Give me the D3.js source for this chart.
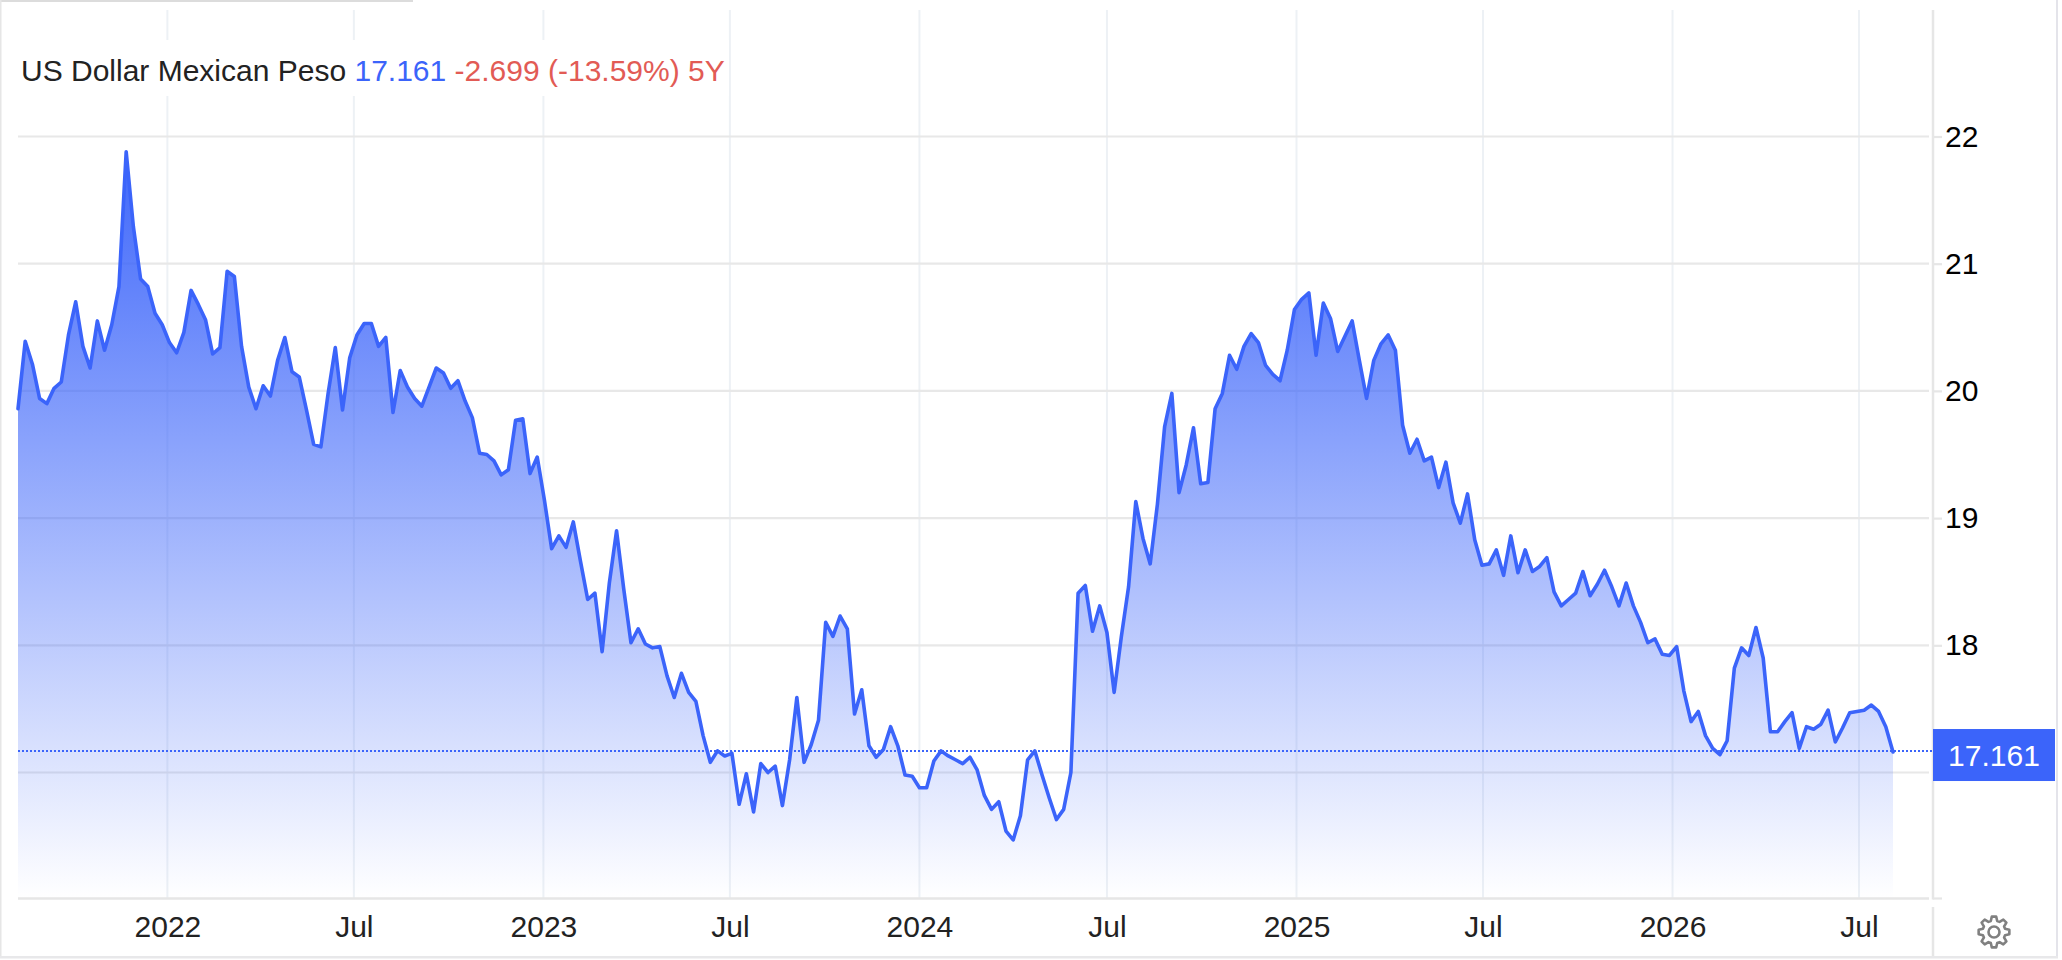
<!DOCTYPE html>
<html>
<head>
<meta charset="utf-8">
<title>US Dollar Mexican Peso</title>
<script src="https://cdn.jsdelivr.net/npm/d3@7"></script>
<style>
	html, body { margin: 0; padding: 0; background: #fff; }
	svg { display: block; }
	text { font-family: "Liberation Sans", Arial, sans-serif; }
</style>
</head>
<body>
<div id="chart"></div>
<script>

// weekly closes
var rates = [
	19.86, 20.39, 20.21, 19.94, 19.90, 20.02, 20.07, 20.44, 20.70, 20.35,
	20.18, 20.55, 20.32, 20.52, 20.82, 21.88, 21.29, 20.88, 20.82, 20.61,
	20.52, 20.38, 20.30, 20.46, 20.79, 20.68, 20.56, 20.29, 20.34, 20.94,
	20.90, 20.35, 20.03, 19.86, 20.04, 19.96, 20.24, 20.42, 20.15, 20.11,
	19.85, 19.58, 19.56, 19.98, 20.34, 19.85, 20.26, 20.44, 20.53, 20.53,
	20.35, 20.42, 19.83, 20.16, 20.03, 19.94, 19.88, 20.03, 20.18, 20.14,
	20.02, 20.08, 19.92, 19.79, 19.51, 19.50, 19.45, 19.34, 19.38, 19.77,
	19.78, 19.35, 19.48, 19.14, 18.76, 18.86, 18.77, 18.97, 18.66, 18.36,
	18.41, 17.95, 18.49, 18.90, 18.44, 18.02, 18.13, 18.01, 17.98, 17.99,
	17.76, 17.59, 17.78, 17.63, 17.56, 17.29, 17.08, 17.17, 17.13, 17.15,
	16.75, 16.99, 16.69, 17.07, 17.00, 17.05, 16.74, 17.10, 17.59, 17.08,
	17.22, 17.41, 18.18, 18.07, 18.23, 18.13, 17.46, 17.65, 17.21, 17.12,
	17.18, 17.36, 17.21, 16.98, 16.97, 16.88, 16.88, 17.09, 17.17, 17.13,
	17.10, 17.07, 17.12, 17.02, 16.82, 16.71, 16.77, 16.54, 16.47, 16.66,
	17.10, 17.17, 16.98, 16.80, 16.63, 16.71, 17.00, 18.41, 18.47, 18.11,
	18.31, 18.10, 17.63, 18.07, 18.46, 19.13, 18.84, 18.64, 19.11, 19.72,
	19.98, 19.20, 19.42, 19.71, 19.27, 19.28, 19.86, 19.98, 20.28, 20.17,
	20.35, 20.45, 20.38, 20.20, 20.13, 20.08, 20.32, 20.64, 20.72, 20.77,
	20.28, 20.69, 20.57, 20.31, 20.43, 20.55, 20.24, 19.94, 20.24, 20.37,
	20.44, 20.32, 19.73, 19.51, 19.62, 19.45, 19.48, 19.24, 19.44, 19.12,
	18.96, 19.19, 18.83, 18.63, 18.64, 18.75, 18.55, 18.86, 18.57, 18.75,
	18.58, 18.62, 18.69, 18.42, 18.31, 18.36, 18.41, 18.58, 18.39, 18.48,
	18.59, 18.46, 18.31, 18.49, 18.31, 18.18, 18.02, 18.05, 17.93, 17.92,
	17.99, 17.64, 17.40, 17.48, 17.29, 17.19, 17.14, 17.25, 17.82, 17.98,
	17.92, 18.14, 17.90, 17.32, 17.32, 17.40, 17.47, 17.19, 17.36, 17.34,
	17.38, 17.49, 17.24, 17.35, 17.47, 17.48, 17.49, 17.53, 17.48, 17.36,
	17.161
];

var firstWeek = new Date(2021, 7, 9);
var lastValue = 17.161;

var gridValues = [17, 18, 19, 20, 21, 22];
var yTicks = [18, 19, 20, 21, 22];	// 17 has no label, the price box covers it
var xTickDates = [
	new Date(2022, 0, 1), new Date(2022, 6, 1),
	new Date(2023, 0, 1), new Date(2023, 6, 1),
	new Date(2024, 0, 1), new Date(2024, 6, 1),
	new Date(2025, 0, 1), new Date(2025, 6, 1),
	new Date(2026, 0, 1), new Date(2026, 6, 1)
];
var xTickLabels = ["2022", "Jul", "2023", "Jul", "2024", "Jul", "2025", "Jul", "2026", "Jul"];

var titleName = "US Dollar Mexican Peso";
var titlePrice = "17.161";
var titleChange = "-2.699 (-13.59%) 5Y";

var blue = "#3b64fa";

var series = rates.map(function(d, i) {
	return { date: d3.timeDay.offset(firstWeek, i * 7), value: d };
});

var x = d3.scaleTime()
	.domain([series[0].date, series[series.length - 1].date])
	.range([18, 1893]);

var y = d3.scaleLinear()
	.domain([17, 22])
	.range([772.5, 136.5]);

var plotTop = 10, plotBottom = 898.5, plotLeft = 18, plotRight = 1929, axisX = 1933;

var svg = d3.select("#chart").append("svg")
	.attr("width", 2062)
	.attr("height", 960);

var defs = svg.append("defs");
var grad = defs.append("linearGradient")
	.attr("id", "areaFill")
	.attr("gradientUnits", "userSpaceOnUse")
	.attr("x1", 0).attr("x2", 0)
	.attr("y1", 150).attr("y2", plotBottom);
grad.append("stop").attr("offset", 0).attr("stop-color", blue).attr("stop-opacity", 0.98);
grad.append("stop").attr("offset", 1).attr("stop-color", blue).attr("stop-opacity", 0);

// frame round the widget
svg.append("rect").attr("x", 0).attr("y", 0).attr("width", 413).attr("height", 2).attr("fill", "#dcdcdc");
svg.append("rect").attr("x", 0).attr("y", 0).attr("width", 1.5).attr("height", 958).attr("fill", "#e6e6e6");
svg.append("rect").attr("x", 2056).attr("y", 0).attr("width", 2).attr("height", 958).attr("fill", "#e4e4ea");
svg.append("rect").attr("x", 0).attr("y", 956).attr("width", 2058).attr("height", 2.5).attr("fill", "#e8e8ea");

// grid
svg.append("g").selectAll("line")
	.data(xTickDates)
	.enter().append("line")
	.attr("x1", function(d) { return x(d); })
	.attr("x2", function(d) { return x(d); })
	.attr("y1", plotTop)
	.attr("y2", plotBottom)
	.attr("stroke", "#edf1f5")
	.attr("stroke-width", 2);

svg.append("g").selectAll("line")
	.data(gridValues)
	.enter().append("line")
	.attr("x1", plotLeft)
	.attr("x2", plotRight)
	.attr("y1", function(d) { return y(d); })
	.attr("y2", function(d) { return y(d); })
	.attr("stroke", "#e8e8e8")
	.attr("stroke-width", 2.2);

// title sits on a white box that cuts the grid
svg.append("rect")
	.attr("x", plotLeft)
	.attr("y", 40)
	.attr("width", 711)
	.attr("height", 56)
	.attr("fill", "#fff");

// bottom and right axis lines
svg.append("line")
	.attr("x1", plotLeft).attr("x2", plotRight)
	.attr("y1", plotBottom).attr("y2", plotBottom)
	.attr("stroke", "#e6e6e6").attr("stroke-width", 2.5);
svg.append("line")
	.attr("x1", axisX).attr("x2", axisX)
	.attr("y1", plotTop).attr("y2", plotBottom + 1)
	.attr("stroke", "#e6e6e6").attr("stroke-width", 2.5);
svg.append("line")
	.attr("x1", axisX).attr("x2", axisX)
	.attr("y1", 907).attr("y2", 956)
	.attr("stroke", "#e6e6e6").attr("stroke-width", 2.5);
svg.append("line")
	.attr("x1", axisX).attr("x2", axisX + 9)
	.attr("y1", plotBottom).attr("y2", plotBottom)
	.attr("stroke", "#e6e6e6").attr("stroke-width", 2.2);

// area and line
var area = d3.area()
	.x(function(d) { return x(d.date); })
	.y0(plotBottom)
	.y1(function(d) { return y(d.value); });

var line = d3.line()
	.x(function(d) { return x(d.date); })
	.y(function(d) { return y(d.value); });

svg.append("path")
	.datum(series)
	.attr("d", area)
	.attr("fill", "url(#areaFill)");

svg.append("path")
	.datum(series)
	.attr("d", line)
	.attr("fill", "none")
	.attr("stroke", blue)
	.attr("stroke-width", 3.6)
	.attr("stroke-linejoin", "round")
	.attr("stroke-linecap", "round");

// last value marker
svg.append("line")
	.attr("x1", plotLeft)
	.attr("x2", axisX)
	.attr("y1", y(lastValue) - 1)
	.attr("y2", y(lastValue) - 1)
	.attr("stroke", blue)
	.attr("stroke-width", 2)
	.attr("stroke-dasharray", "2 2");

// axes
var yAxis = d3.axisRight(y)
	.tickValues(yTicks)
	.tickFormat(d3.format("d"))
	.tickSize(9)
	.tickPadding(3);

var yG = svg.append("g")
	.attr("transform", "translate(" + axisX + ",0)")
	.call(yAxis);
yG.select(".domain").remove();
yG.selectAll("line").attr("stroke", "#e6e6e6").attr("stroke-width", 2.2);
yG.selectAll("text")
	.attr("fill", "#000")
	.style("font-size", "30px");

var xAxis = d3.axisBottom(x)
	.tickValues(xTickDates)
	.tickFormat(function(d, i) { return xTickLabels[i]; })
	.tickSize(0)
	.tickPadding(17);

var xG = svg.append("g")
	.attr("transform", "translate(0," + plotBottom + ")")
	.call(xAxis);
xG.select(".domain").remove();
xG.selectAll("text")
	.attr("fill", "#222")
	.style("font-size", "30px");

// price label
svg.append("rect")
	.attr("x", axisX)
	.attr("y", y(lastValue) - 23)
	.attr("width", 122)
	.attr("height", 52)
	.attr("fill", blue);

svg.append("text")
	.attr("x", axisX + 61)
	.attr("y", y(lastValue) + 14)
	.attr("text-anchor", "middle")
	.attr("fill", "#fff")
	.style("font-size", "30px")
	.text(lastValue.toFixed(3));

// title
var title = svg.append("text")
	.attr("x", 21)
	.attr("y", 81)
	.style("font-size", "30px")
	.style("white-space", "pre");
title.append("tspan").attr("fill", "#222").text(titleName + " ");
title.append("tspan").attr("fill", blue).text(titlePrice + " ");
title.append("tspan").attr("fill", "#e25b55").text(titleChange);

// settings gear
var gearR = 15.5, gearInner = 11.5, gearTeeth = 8;
var gearPts = [];
for (var t = 0; t < gearTeeth; t++) {
	var a = t / gearTeeth * 2 * Math.PI;
	var w = Math.PI / gearTeeth;
	gearPts.push([a - w * 0.72, gearInner]);
	gearPts.push([a - w * 0.36, gearR]);
	gearPts.push([a + w * 0.36, gearR]);
	gearPts.push([a + w * 0.72, gearInner]);
}
var gearLine = d3.lineRadial().curve(d3.curveLinearClosed);
var gear = svg.append("g").attr("transform", "translate(1994,932)");
gear.append("path")
	.attr("d", gearLine(gearPts))
	.attr("fill", "none")
	.attr("stroke", "#808080")
	.attr("stroke-width", 2.6)
	.attr("stroke-linejoin", "round");
gear.append("circle")
	.attr("r", 5.5)
	.attr("fill", "none")
	.attr("stroke", "#808080")
	.attr("stroke-width", 2.6);

</script>
</body>
</html>
